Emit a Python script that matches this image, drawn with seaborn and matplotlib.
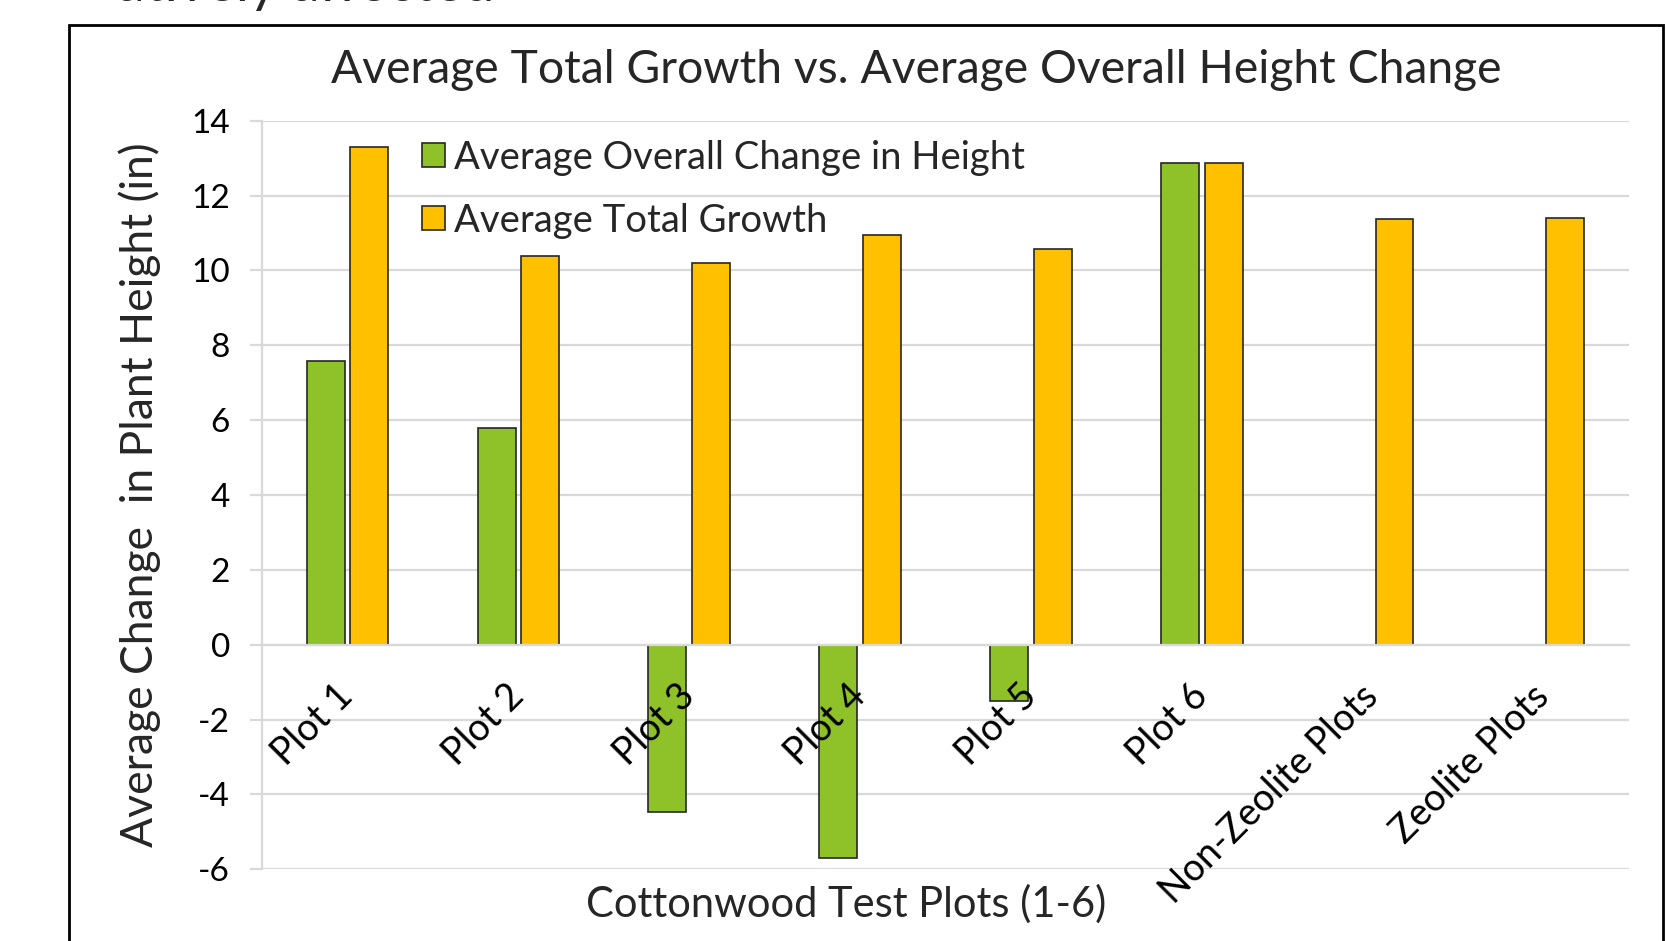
import matplotlib
matplotlib.use("Agg")
import matplotlib.pyplot as plt
from matplotlib.patches import Rectangle
import numpy as np
import pandas as pd
import seaborn as sns

plots = ["Plot 1", "Plot 2", "Plot 3", "Plot 4", "Plot 5", "Plot 6",
         "Non-Zeolite Plots", "Zeolite Plots"]
height_change = [7.57, 5.78, -4.46, -5.71, -1.51, 12.88, np.nan, np.nan]
total_growth = [13.31, 10.38, 10.21, 10.95, 10.58, 12.88, 11.38, 11.40]
series_names = ["Average Overall Change in Height", "Average Total Growth"]
y_ticks = [-6, -4, -2, 0, 2, 4, 6, 8, 10, 12, 14]

GREEN = "#8fc128"
GOLD = "#ffc000"
GRID = "#d9d9d9"

sns.set_theme(style="white")
plt.rcParams["font.family"] = ["Lato", "DejaVu Sans"]
plt.rcParams["axes.unicode_minus"] = False

df = pd.DataFrame({
    "plot": plots * 2,
    "series": [series_names[0]] * len(plots) + [series_names[1]] * len(plots),
    "value": height_change + total_growth,
}).dropna()

fig = plt.figure(figsize=(16.66, 9.41), dpi=100)
ax = fig.add_axes([0.1573, 0.0762, 0.8205, 0.7955])

sns.barplot(
    data=df, x="plot", y="value", hue="series", order=plots,
    hue_order=series_names, palette=[GREEN, GOLD], saturation=1,
    width=0.51, gap=0.13, edgecolor="#262626", linewidth=1.2,
    errorbar=None, ax=ax,
)

ax.set_xlim(-0.5, len(plots) - 0.5)
ax.set_ylim(-6, 14)
ax.set_yticks(y_ticks)
ax.yaxis.grid(True, color=GRID, linewidth=1.6)
ax.set_axisbelow(True)
ax.xaxis.set_zorder(5)  # category labels sit on top of the bars

for side in ["top", "right"]:
    ax.spines[side].set_visible(False)
ax.spines["left"].set_color(GRID)
ax.spines["left"].set_linewidth(1.6)
ax.spines["bottom"].set_position(("data", 0))
ax.spines["bottom"].set_color(GRID)
ax.spines["bottom"].set_linewidth(1.6)

ax.tick_params(axis="y", length=9, width=1.6, color=GRID, labelsize=24,
               labelcolor="black", pad=14, left=True)
ax.tick_params(axis="x", length=0, labelsize=27, labelcolor="black", pad=33)
for lbl in ax.get_xticklabels():
    lbl.set_rotation(45)
    lbl.set_ha("right")
    lbl.set_va("center")
    lbl.set_rotation_mode("anchor")

ax.set_xlabel("")
ax.set_ylabel("Average Change  in Plant Height (in)", fontsize=32)
ax.yaxis.set_label_coords(-0.074, 0.5)

handles, labels = ax.get_legend_handles_labels()
ax.legend(handles, labels, loc="upper left", bbox_to_anchor=(0.103, 1.0),
          frameon=False, fontsize=27.5, handlelength=0.6, handleheight=0.6,
          handletextpad=0.25, labelspacing=0.7, borderpad=0)

fig.text(0.55, 0.926, "Average Total Growth vs. Average Overall Height Change",
         ha="center", va="center", fontsize=33.3)
fig.text(0.508, 0.039, "Cottonwood Test Plots (1-6)",
         ha="center", va="center", fontsize=30)

# slide text cut off above the chart and the chart frame
fig.text(494 / 1666, 1 - 1 / 941, "atively affected", ha="right",
         va="baseline", fontsize=40)
fig.add_artist(Rectangle((69 / 1666, -0.05), (1663 - 69) / 1666, 1.05 - 25 / 941,
                         transform=fig.transFigure, fill=False,
                         edgecolor="black", linewidth=2))

fig.savefig("out.png", dpi=100)
